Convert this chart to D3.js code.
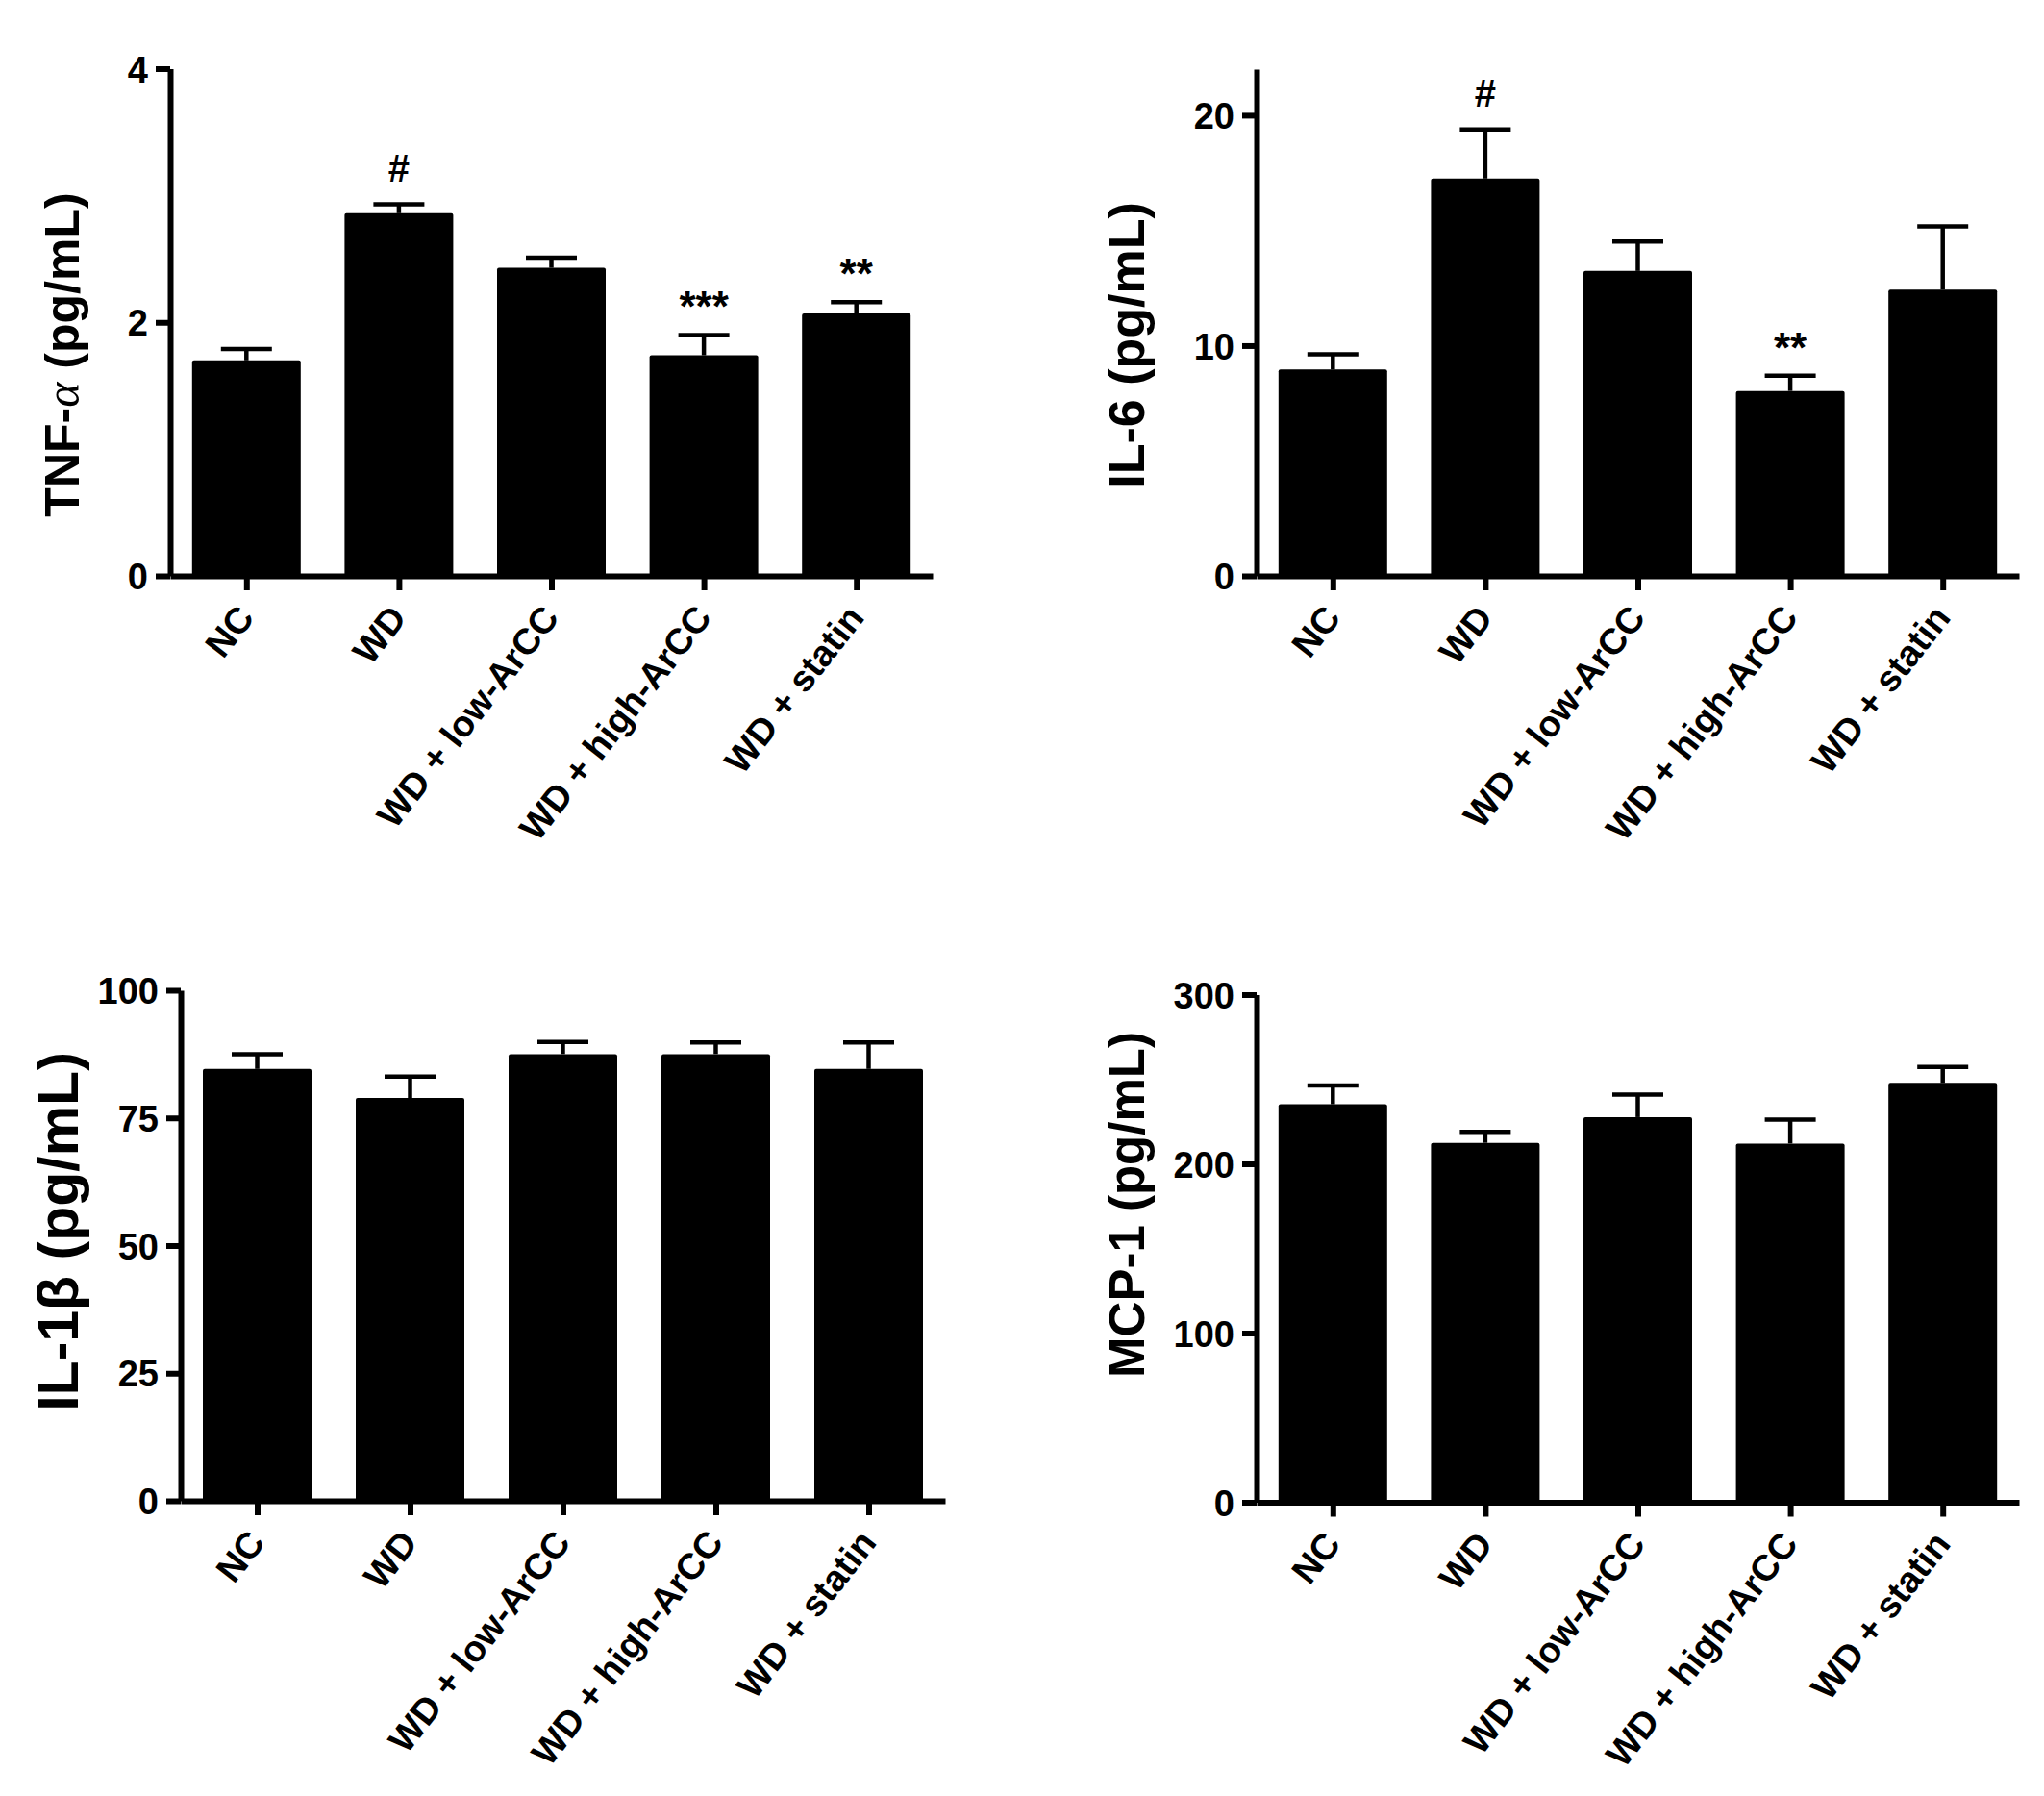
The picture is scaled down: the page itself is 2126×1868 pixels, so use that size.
<!DOCTYPE html>
<html>
<head>
<meta charset="utf-8">
<script src="https://d3js.org/d3.v7.min.js"></script>
<style>
	body { margin: 0; background: #fff; }
	text { font-family: 'Liberation Sans', Arial, sans-serif; font-weight: bold; fill: #000; }
</style>
</head>
<body>
<svg id="chart"></svg>
<script>
/* 数据 */
const groups = ['NC', 'WD', 'WD + low-ArCC', 'WD + high-ArCC', 'WD + statin'];

const tnfMean = [1.70, 2.86, 2.43, 1.74, 2.07];
const tnfErr = [0.09, 0.07, 0.08, 0.16, 0.09];
const tnfMarks = ['', '#', '', '***', '**'];
const tnfTicks = [0, 2, 4];

const il6Mean = [8.96, 17.25, 13.24, 8.03, 12.43];
const il6Err = [0.66, 2.13, 1.28, 0.66, 2.74];
const il6Marks = ['', '#', '', '**', ''];
const il6Ticks = [0, 10, 20];

const il1bMean = [84.6, 78.9, 87.5, 87.5, 84.6];
const il1bErr = [2.9, 4.2, 2.4, 2.3, 5.2];
const il1bMarks = ['', '', '', '', ''];
const il1bTicks = [0, 25, 50, 75, 100];

const mcpMean = [235.2, 212.4, 227.6, 212.0, 247.8];
const mcpErr = [11.1, 6.5, 13.3, 14.1, 9.4];
const mcpMarks = ['', '', '', '', ''];
const mcpTicks = [0, 100, 200, 300];

/* 常参数 */
const svgWidth = 2126;
const svgHeight = 1868;
const barWidth = 113;
const capWidth = 53;
const lineWidth = 6;

const svg = d3.select('#chart')
	.attr('width', svgWidth)
	.attr('height', svgHeight);

svg.append('rect')
	.attr('width', svgWidth)
	.attr('height', svgHeight)
	.attr('fill', '#fff');

/* 四个面板的位置 */
const panels = [
	{mean: tnfMean, err: tnfErr, marks: tnfMarks, ticks: tnfTicks, max: 4,
		left: 177, right: 970, bottom: 599, top: 71.5,
		title: ['TNF-', 'α', ' (pg/mL)'], titleX: 82, titleY: 369, titleSize: 50},
	{mean: il6Mean, err: il6Err, marks: il6Marks, ticks: il6Ticks, max: 22,
		left: 1307, right: 2100, bottom: 599, top: 72,
		title: ['IL-6 (pg/mL)'], titleX: 1190, titleY: 359, titleSize: 52},
	{mean: il1bMean, err: il1bErr, marks: il1bMarks, ticks: il1bTicks, max: 100,
		left: 188, right: 983, bottom: 1561, top: 1030,
		title: ['IL-1β (pg/mL)'], titleX: 81, titleY: 1281, titleSize: 59},
	{mean: mcpMean, err: mcpErr, marks: mcpMarks, ticks: mcpTicks, max: 300,
		left: 1307, right: 2100, bottom: 1562.5, top: 1034.5,
		title: ['MCP-1 (pg/mL)'], titleX: 1190, titleY: 1253, titleSize: 51}
];

panels.forEach(drawPanel);

function drawPanel(p) {
	const x = d3.scalePoint().domain(groups).range([p.left, p.right]).padding(0.5);
	const y = d3.scaleLinear().domain([0, p.max]).range([p.bottom, p.top]);
	const rows = groups.map((name, i) => ({name: name, mean: p.mean[i], err: p.err[i], mark: p.marks[i]}));
	const g = svg.append('g');

	/* 误差线要先画, 柱子盖在上面 */
	const errG = g.append('g').attr('stroke', '#000').attr('stroke-width', 4.5);
	errG.selectAll('line.stem')
		.data(rows)
		.join('line')
		.attr('class', 'stem')
		.attr('x1', (d) => x(d.name))
		.attr('x2', (d) => x(d.name))
		.attr('y1', (d) => y(d.mean))
		.attr('y2', (d) => y(d.mean + d.err));
	errG.selectAll('line.cap')
		.data(rows)
		.join('line')
		.attr('class', 'cap')
		.attr('x1', (d) => x(d.name) - capWidth / 2)
		.attr('x2', (d) => x(d.name) + capWidth / 2)
		.attr('y1', (d) => y(d.mean + d.err))
		.attr('y2', (d) => y(d.mean + d.err));

	g.append('g').selectAll('rect')
		.data(rows)
		.join('rect')
		.attr('x', (d) => x(d.name) - barWidth / 2)
		.attr('y', (d) => y(d.mean))
		.attr('width', barWidth)
		.attr('height', (d) => y(0) - y(d.mean))
		.attr('rx', 2)
		.attr('fill', '#000');

	/* 显著性标记 */
	g.append('g').selectAll('text')
		.data(rows.filter((d) => d.mark))
		.join('text')
		.attr('x', (d) => x(d.name))
		.attr('y', (d) => y(d.mean + d.err) - (d.mark === '#' ? 24 : 14))
		.attr('text-anchor', 'middle')
		.attr('font-size', (d) => d.mark === '#' ? 40 : 44)
		.text((d) => d.mark);

	/* y 轴 */
	const gy = g.append('g')
		.attr('transform', `translate(${p.left},0)`)
		.call(d3.axisLeft(y).tickValues(p.ticks).tickFormat(d3.format('d'))
			.tickSize(15).tickSizeOuter(0).tickPadding(8));
	gy.attr('font-size', null).attr('font-family', null);
	gy.select('.domain').attr('stroke-width', lineWidth);
	gy.selectAll('.tick line').attr('stroke-width', lineWidth);
	gy.selectAll('.tick text').attr('font-size', 38).attr('dy', '0.36em');

	/* x 轴 */
	const gx = g.append('g')
		.attr('transform', `translate(0,${p.bottom})`)
		.call(d3.axisBottom(x).tickSize(15).tickSizeOuter(0));
	gx.attr('font-size', null).attr('font-family', null);
	gx.select('.domain').attr('stroke-width', lineWidth);
	gx.selectAll('.tick line').attr('stroke-width', lineWidth);
	gx.selectAll('.tick text')
		.attr('y', 0)
		.attr('dy', 0)
		.attr('font-size', 38)
		.attr('text-anchor', 'end')
		.attr('transform', 'translate(9,44) rotate(-52)');

	/* y 轴标题 */
	const title = g.append('text')
		.attr('transform', `translate(${p.titleX},${p.titleY}) rotate(-90)`)
		.attr('text-anchor', 'middle')
		.attr('font-size', p.titleSize);
	title.selectAll('tspan')
		.data(p.title)
		.join('tspan')
		.attr('font-style', (d) => d === 'α' ? 'italic' : null)
		.attr('font-family', (d) => d === 'α' ? "'Liberation Serif', serif" : null)
		.attr('font-weight', (d) => d === 'α' ? 'normal' : null)
		.text((d) => d);
}
</script>
</body>
</html>
